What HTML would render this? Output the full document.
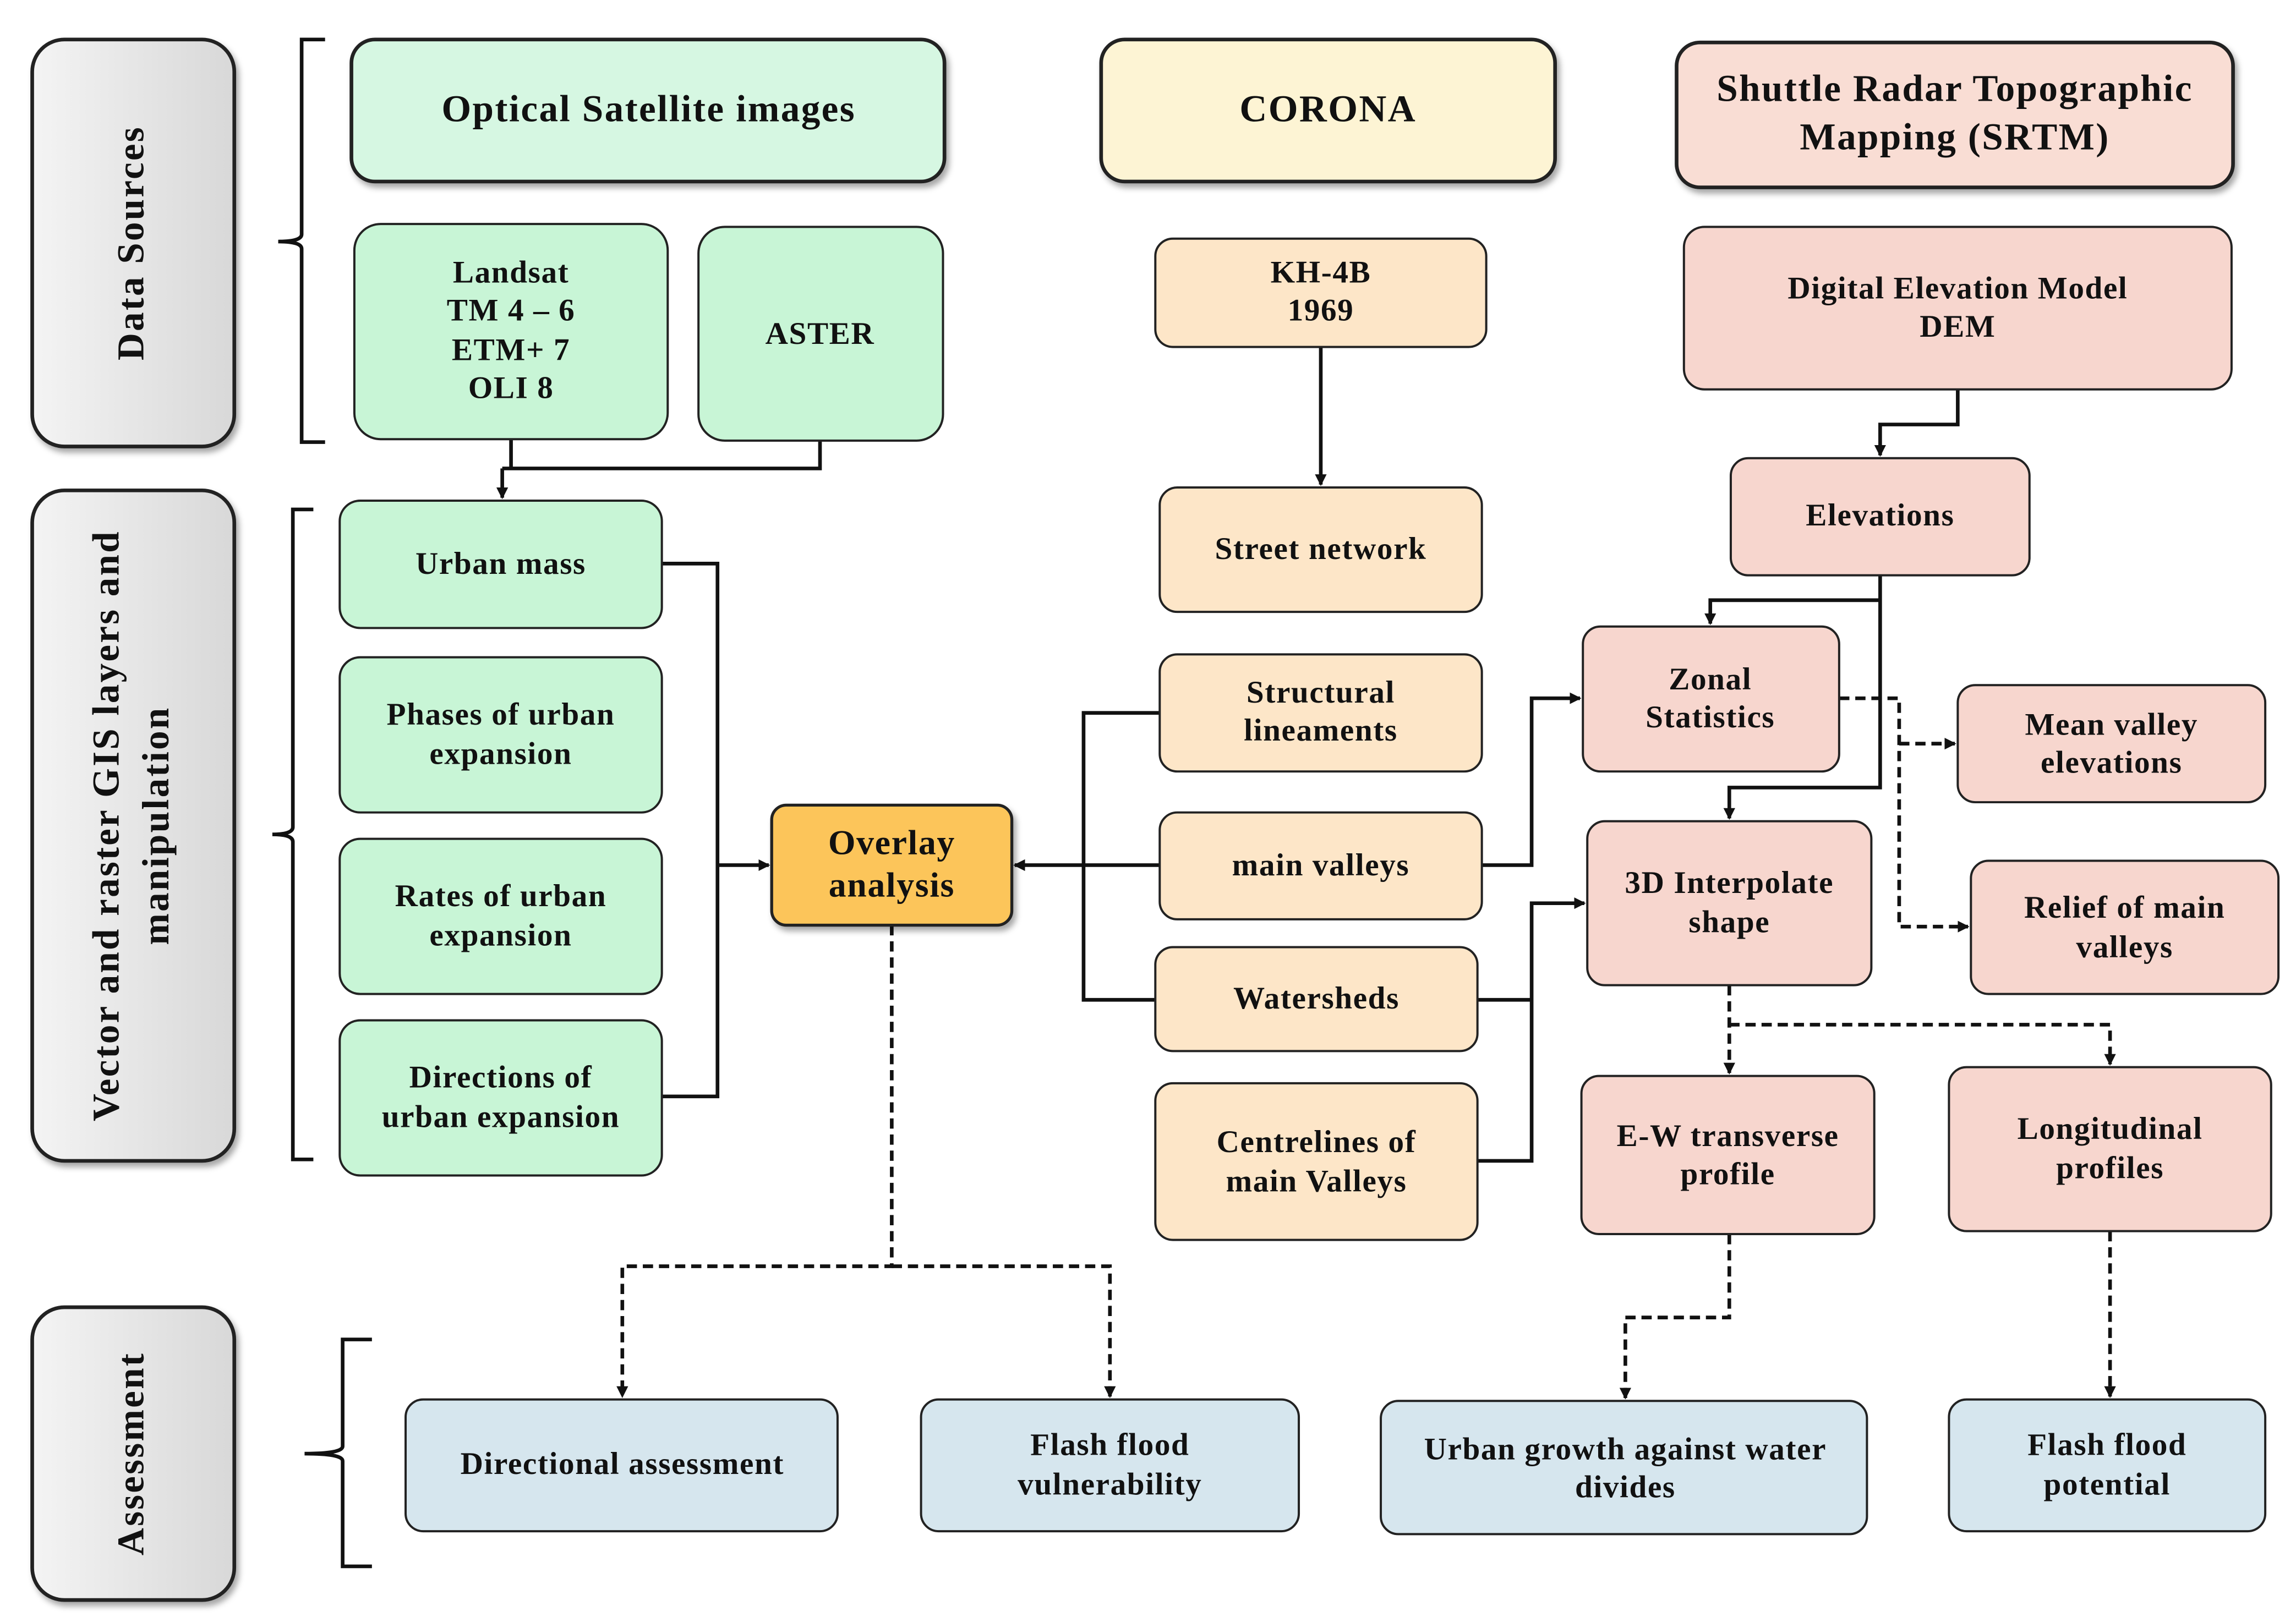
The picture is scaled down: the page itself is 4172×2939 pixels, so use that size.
<!DOCTYPE html>
<html><head><meta charset="utf-8">
<style>
html,body{margin:0;padding:0;background:#fff;width:4172px;height:2939px;overflow:hidden}
svg{display:block}
text{font-family:"Liberation Serif",serif;font-weight:bold;fill:#111;text-anchor:middle;dominant-baseline:middle}
</style></head><body>
<svg width="4172" height="2939" viewBox="0 0 1568 1104.6" preserveAspectRatio="none" xmlns="http://www.w3.org/2000/svg">
<defs>
<filter id="sh" x="-10%" y="-10%" width="130%" height="130%"><feDropShadow dx="2" dy="3" stdDeviation="2" flood-color="#000" flood-opacity="0.35"/></filter>
<linearGradient id="gray" x1="0" y1="0" x2="1" y2="0"><stop offset="0" stop-color="#f4f4f4"/><stop offset="1" stop-color="#d8d8d8"/></linearGradient>
<marker id="ar" markerWidth="8" markerHeight="8" refX="7" refY="4" orient="auto" markerUnits="userSpaceOnUse"><path d="M0,0 L8,4 L0,8 z" fill="#111"/></marker>
</defs>
<style>
.b{stroke:#222;stroke-width:1.5}
.g{fill:#c8f5d6}.y{fill:#fde6c8}.p{fill:#f7d6ce}.bl{fill:#d6e6ee}
.l{fill:none;stroke:#111;stroke-width:2.5}
.d{fill:none;stroke:#111;stroke-width:2.5;stroke-dasharray:7,4}
.t{font-size:21.5px;letter-spacing:0.6px}
.h{font-size:26px;letter-spacing:0.9px}
.v{font-size:26px;letter-spacing:1.2px}
</style>
<g filter="url(#sh)">
<rect x="22" y="27" width="138" height="278" rx="22" fill="url(#gray)" stroke="#222" stroke-width="2.5"/>
<rect x="22" y="335" width="138" height="458" rx="22" fill="url(#gray)" stroke="#222" stroke-width="2.5"/>
<rect x="22" y="893" width="138" height="200" rx="22" fill="url(#gray)" stroke="#222" stroke-width="2.5"/>
</g>
<text class="v" transform="translate(92,166) rotate(-90)">Data Sources</text>
<text class="v" transform="translate(92,564) rotate(-90)"><tspan x="0" y="-17">Vector and raster GIS layers and</tspan><tspan x="0" y="17">manipulation</tspan></text>
<text class="v" transform="translate(92,993) rotate(-90)">Assessment</text>
<path class="l" d="M222,27 H206 V160 Q206,165 190,165 Q206,165 206,170 V302 H222" stroke-width="3"/>
<path class="l" d="M214,348 H200 V565 Q200,570 186,570 Q200,570 200,575 V792 H214" stroke-width="3"/>
<path class="l" d="M254,915 H234 V988 Q234,993 208,993 Q234,993 234,998 V1070 H254" stroke-width="3"/>
<g filter="url(#sh)">
<rect x="240" y="27" width="405" height="97" rx="16" fill="#d6f7e2" stroke="#222" stroke-width="2.5"/>
<rect x="752" y="27" width="310" height="97" rx="16" fill="#fdf4d4" stroke="#222" stroke-width="2.5"/>
<rect x="1145" y="29" width="380" height="99" rx="16" fill="#f9ddd4" stroke="#222" stroke-width="2.5"/>
</g>
<text class="h" x="443" y="77">Optical Satellite images</text>
<text class="h" x="907" y="77">CORONA</text>
<text class="h" x="1335" y="63">Shuttle Radar Topographic</text>
<text class="h" x="1335" y="96">Mapping (SRTM)</text>
<path class="l" d="M349,300 V320 M560,301 V320 H343"/><path class="l" d="M343,320 V340" marker-end="url(#ar)"/>
<path class="l" d="M452,385 H490 V749 H452"/><path class="l" d="M490,591 H525" marker-end="url(#ar)"/>
<path class="l" d="M792,487 H740 V683 H789 M792,591 H740"/><path class="l" d="M740,591 H693" marker-end="url(#ar)"/>
<path class="l" d="M902,237 V331" marker-end="url(#ar)"/>
<path class="l" d="M1337,266 V290 H1284 V311" marker-end="url(#ar)"/>
<path class="l" d="M1284,393 V538 H1181 V559" marker-end="url(#ar)"/>
<path class="l" d="M1284,410 H1168 V426" marker-end="url(#ar)"/>
<path class="l" d="M1012,591 H1046 V477 H1079" marker-end="url(#ar)"/>
<path class="l" d="M1009,683 H1046 M1009,793 H1046 V617 H1082" marker-end="url(#ar)"/>
<path class="d" d="M1256,477 H1297 V633 H1344" marker-end="url(#ar)"/>
<path class="d" d="M1297,508 H1335" marker-end="url(#ar)"/>
<path class="d" d="M1181,673 V733" marker-end="url(#ar)"/>
<path class="d" d="M1181,700 H1441 V727" marker-end="url(#ar)"/>
<path class="d" d="M609,632 V865 H425 V954" marker-end="url(#ar)"/>
<path class="d" d="M609,865 H758 V954" marker-end="url(#ar)"/>
<path class="d" d="M1181,843 V900 H1110 V955" marker-end="url(#ar)"/>
<path class="d" d="M1441,841 V954" marker-end="url(#ar)"/>
<g class="b">
<rect class="g" x="242" y="153" width="214" height="147" rx="18"/>
<rect class="g" x="477" y="155" width="167" height="146" rx="18"/>
<rect class="g" x="232" y="342" width="220" height="87" rx="14"/>
<rect class="g" x="232" y="449" width="220" height="106" rx="14"/>
<rect class="g" x="232" y="573" width="220" height="106" rx="14"/>
<rect class="g" x="232" y="697" width="220" height="106" rx="14"/>
<rect x="527" y="550" width="164" height="82" rx="10" fill="#fcc55a" stroke="#222" stroke-width="2" filter="url(#sh)"/>
<rect class="y" x="789" y="163" width="226" height="74" rx="12"/>
<rect class="y" x="792" y="333" width="220" height="85" rx="12"/>
<rect class="y" x="792" y="447" width="220" height="80" rx="12"/>
<rect class="y" x="792" y="555" width="220" height="73" rx="12"/>
<rect class="y" x="789" y="647" width="220" height="71" rx="12"/>
<rect class="y" x="789" y="740" width="220" height="107" rx="12"/>
<rect class="p" x="1150" y="155" width="374" height="111" rx="14"/>
<rect class="p" x="1182" y="313" width="204" height="80" rx="12"/>
<rect class="p" x="1081" y="428" width="175" height="99" rx="12"/>
<rect class="p" x="1084" y="561" width="194" height="112" rx="12"/>
<rect class="p" x="1337" y="468" width="210" height="80" rx="12"/>
<rect class="p" x="1346" y="588" width="210" height="91" rx="12"/>
<rect class="p" x="1080" y="735" width="200" height="108" rx="12"/>
<rect class="p" x="1331" y="729" width="220" height="112" rx="12"/>
<rect class="bl" x="277" y="956" width="295" height="90" rx="12"/>
<rect class="bl" x="629" y="956" width="258" height="90" rx="12"/>
<rect class="bl" x="943" y="957" width="332" height="91" rx="12"/>
<rect class="bl" x="1331" y="956" width="216" height="90" rx="12"/>
</g>
<g class="t">
<text x="349" y="188">Landsat</text><text x="349" y="214">TM 4 – 6</text><text x="349" y="241">ETM+ 7</text><text x="349" y="267">OLI 8</text>
<text x="560" y="230">ASTER</text>
<text x="342" y="387">Urban mass</text>
<text x="342" y="490">Phases of urban</text><text x="342" y="517">expansion</text>
<text x="342" y="614">Rates of urban</text><text x="342" y="641">expansion</text>
<text x="342" y="738">Directions of</text><text x="342" y="765">urban expansion</text>
<text x="609" y="578" style="font-size:24px">Overlay</text><text x="609" y="607" style="font-size:24px">analysis</text>
<text x="902" y="188">KH-4B</text><text x="902" y="214">1969</text>
<text x="902" y="377">Street network</text>
<text x="902" y="475">Structural</text><text x="902" y="501">lineaments</text>
<text x="902" y="593">main valleys</text>
<text x="899" y="684">Watersheds</text>
<text x="899" y="782">Centrelines of</text><text x="899" y="809">main Valleys</text>
<text x="1337" y="199">Digital Elevation Model</text><text x="1337" y="225">DEM</text>
<text x="1284" y="354">Elevations</text>
<text x="1168" y="466">Zonal</text><text x="1168" y="492">Statistics</text>
<text x="1181" y="605">3D Interpolate</text><text x="1181" y="632">shape</text>
<text x="1442" y="497">Mean valley</text><text x="1442" y="523">elevations</text>
<text x="1451" y="622">Relief of main</text><text x="1451" y="649">valleys</text>
<text x="1180" y="778">E-W transverse</text><text x="1180" y="804">profile</text>
<text x="1441" y="773">Longitudinal</text><text x="1441" y="800">profiles</text>
<text x="425" y="1002">Directional assessment</text>
<text x="758" y="989">Flash flood</text><text x="758" y="1016">vulnerability</text>
<text x="1110" y="992">Urban growth against water</text><text x="1110" y="1018">divides</text>
<text x="1439" y="989">Flash flood</text><text x="1439" y="1016">potential</text>
</g>
</svg>
</body></html>
